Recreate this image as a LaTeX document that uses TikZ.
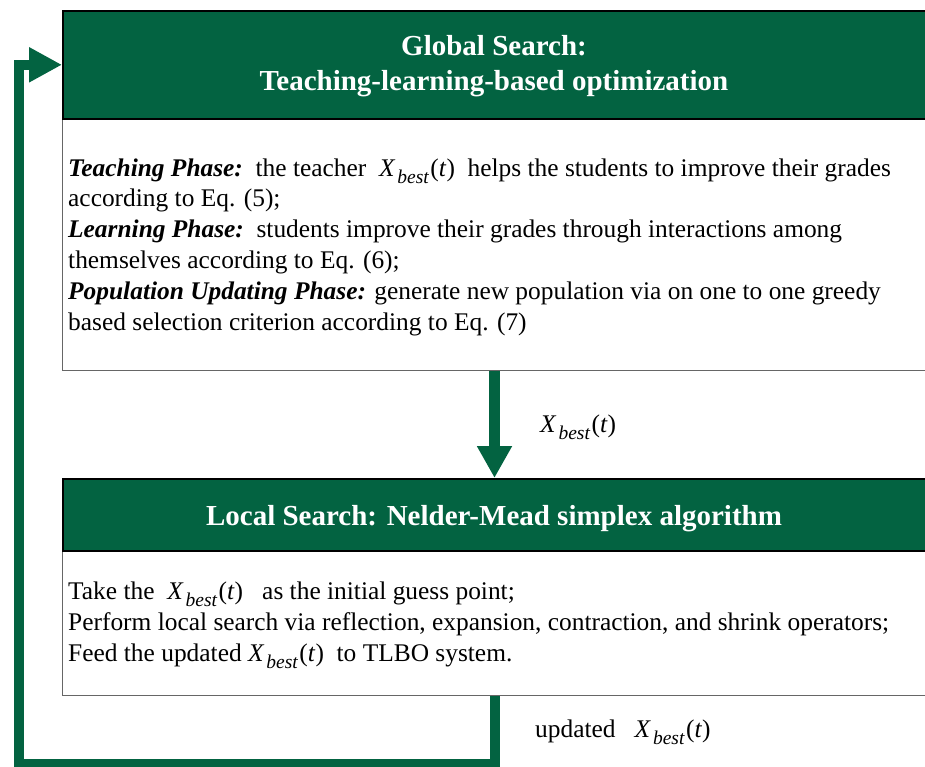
\documentclass[tikz,border=0pt]{standalone}
\usepackage{fontspec}
\setmainfont{Liberation Serif}
\usetikzlibrary{arrows.meta}
\definecolor{tlgreen}{RGB}{3,99,65}
% X_best(t) set in text italics
\newcommand\Xbt{\textit{X}\kern0.08em\raisebox{-0.3em}{\fontsize{19.5}{19.5}\selectfont\textit{best}}\kern0.05em(\textit{t})}
\begin{document}
\begin{tikzpicture}[x=1pt,y=-1pt,
  hdr/.style={draw=black, line width=1.6pt, fill=tlgreen, rectangle, inner sep=0pt,
    anchor=north west, minimum width=880pt},
  bodybox/.style={draw=black!60, line width=1pt, fill=white, rectangle, inner sep=0pt,
    anchor=north west, minimum width=880pt},
  hdrtext/.style={text=white, font=\fontsize{29}{35}\selectfont\bfseries, align=center, inner sep=0pt},
  bodytext/.style={font=\fontsize{25.4}{30.8}\selectfont, align=left, inner sep=0pt, anchor=base west},
  labeltext/.style={font=\fontsize{25.4}{30}\selectfont, inner sep=0pt, anchor=base west},
  flow/.style={draw=tlgreen, line width=11pt, -{Triangle[width=33pt,length=32pt]}},
  feedback/.style={draw=tlgreen, line width=10pt, line join=miter, -{Triangle[width=33pt,length=33pt]}}]
\useasboundingbox (0,0) rectangle (925,767);
\clip (0,0) rectangle (925,767);

% boxes
\node[bodybox, minimum height=252pt] (gb) at (62,118) {};
\node[hdr, minimum height=108pt] (gh) at (62,10) {};
\node[bodybox, minimum height=145pt] (lb) at (62,550) {};
\node[hdr, minimum height=72pt] (lh) at (62,478) {};

% headings
\node[hdrtext] (ght) at (494,66) {Global Search:\\Teaching-learning-based optimization};
\node[hdrtext] (lht) at (494,519) {Local Search: Nelder-Mead simplex algorithm};

% body texts (anchored at the baseline of the last line)
\node[bodytext] (gbt) at (68,330) {%
\textbf{\textit{Teaching Phase:}}\ \ the teacher\ \ \Xbt\ \ helps the students to improve their grades\\
according to Eq. (5);\\
\textbf{\textit{Learning Phase:}}\ \ students improve their grades through interactions among\\
themselves according to Eq. (6);\\
\textbf{\textit{Population Updating Phase:}} generate new population via on one to one greedy\\
based selection criterion according to Eq. (7)};
\node[bodytext, font=\fontsize{25.4}{31}\selectfont] (lbt) at (68,661) {%
Take the\ \ \Xbt\ \ \ as the initial guess point;\\
Perform local search via reflection, expansion, contraction, and shrink operators;\\
Feed the updated\ \Xbt\ \ to TLBO system.};

% connectors
\coordinate (ax) at (494.5,0);
\coordinate (loopcorner) at (19,764);
\draw[flow] (gb.south -| ax) -- (lh.north -| ax);
\draw[feedback] (lb.south -| ax) |- (loopcorner) |- (gh.west);

% connector labels
\node[labeltext] (l1) at (540,432) {\Xbt};
\node[labeltext] (l2) at (535,737) {updated\ \ \ \Xbt};
\end{tikzpicture}
\end{document}
